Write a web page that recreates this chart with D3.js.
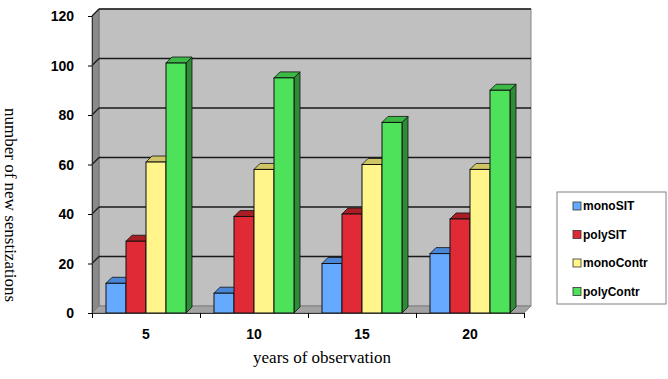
<!DOCTYPE html>
<html lang="en">
  <head>
    <meta charset="UTF-8" />
    <title>New sensitizations</title>
    <style>
      body { margin: 0; background: #fff; }
      .tick-label { font-family: "Liberation Sans", Arial, sans-serif; font-weight: bold; font-size: 14px; fill: #000; }
      .axis-title { font-family: "Liberation Serif", "Times New Roman", serif; font-size: 17px; fill: #000; }
      .legend-text { font-family: "Liberation Sans", Arial, sans-serif; font-weight: bold; font-size: 12px; fill: #000; }
    </style>
  </head>
  <body>
    <script src="https://cdn.jsdelivr.net/npm/d3@7"></script>
    <script>
      // data
      var categories = ["5", "10", "15", "20"];
      var series = ["monoSIT", "polySIT", "monoContr", "polyContr"];
      var monoSIT = [12, 8, 20, 24];
      var polySIT = [29, 39, 40, 38];
      var monoContr = [61, 58, 60, 58];
      var polyContr = [101, 95, 77, 90];
      var yTicks = [0, 20, 40, 60, 80, 100, 120];

      var values = [monoSIT, polySIT, monoContr, polyContr];
      var colors = {
        front: ["#66aaff", "#e02a35", "#fff58a", "#4ee25a"],
        top:   ["#4a86d6", "#a91e24", "#cfc565", "#3bb845"],
        side:  ["#3a6cb0", "#8c1a1e", "#b0a850", "#2e8b36"]
      };

      var w = 668, h = 379;
      var depth = 7;     // wall depth
      var barDepth = 6;  // bar depth

      var svg = d3.select("body").append("svg")
                  .attr("width", w)
                  .attr("height", h);

      var x0 = d3.scaleBand()
                 .domain(categories)
                 .range([92, 524]);

      var x1 = d3.scaleBand()
                 .domain(series)
                 .range([0, 80]);

      var y = d3.scaleLinear()
                .domain([0, 120])
                .range([313, 16]);

      var pLeft = x0.range()[0], pRight = x0.range()[1];
      var pBottom = y(0), pTop = y(120);

      function pts(a) {
        return a.map(function(p) { return p.join(","); }).join(" ");
      }

      // back wall
      svg.append("rect")
         .attr("x", pLeft + depth)
         .attr("y", pTop - depth)
         .attr("width", pRight - pLeft)
         .attr("height", pBottom - pTop)
         .attr("fill", "#c0c0c0")
         .attr("stroke", "#888")
         .attr("stroke-width", 1);

      // left wall
      svg.append("polygon")
         .attr("points", pts([[pLeft, pTop], [pLeft + depth, pTop - depth], [pLeft + depth, pBottom - depth], [pLeft, pBottom]]))
         .attr("fill", "#8a8a8a")
         .attr("stroke", "#666")
         .attr("stroke-width", 0.8);

      // floor
      svg.append("polygon")
         .attr("points", pts([[pLeft, pBottom], [pLeft + depth, pBottom - depth], [pRight + depth, pBottom - depth], [pRight, pBottom]]))
         .attr("fill", "#a3a3a3")
         .attr("stroke", "#777")
         .attr("stroke-width", 0.8);

      // gridlines
      var grid = svg.append("g");
      yTicks.forEach(function(t) {
        if (t === 0) return;
        grid.append("line")
            .attr("x1", pLeft + depth).attr("x2", pRight + depth)
            .attr("y1", y(t) - depth).attr("y2", y(t) - depth)
            .attr("stroke", "#1a1a1a").attr("stroke-width", 1.4);
        grid.append("line")
            .attr("x1", pLeft).attr("x2", pLeft + depth)
            .attr("y1", y(t)).attr("y2", y(t) - depth)
            .attr("stroke", "#1a1a1a").attr("stroke-width", 1.2);
      });

      // bars
      var bars = svg.append("g");
      categories.forEach(function(c, ci) {
        var gx = x0(c) + (x0.bandwidth() - 80) / 2;
        series.forEach(function(s, si) {
          var v = values[si][ci];
          var bx = gx + x1(s), bw = x1.bandwidth();
          var by = y(v), b0 = y(0);
          bars.append("polygon")
              .attr("points", pts([[bx + bw, by], [bx + bw + barDepth, by - barDepth], [bx + bw + barDepth, b0 - barDepth], [bx + bw, b0]]))
              .attr("fill", colors.side[si]).attr("stroke", "#111").attr("stroke-width", 0.8);
          bars.append("polygon")
              .attr("points", pts([[bx, by], [bx + barDepth, by - barDepth], [bx + bw + barDepth, by - barDepth], [bx + bw, by]]))
              .attr("fill", colors.top[si]).attr("stroke", "#111").attr("stroke-width", 0.8);
          bars.append("rect")
              .attr("x", bx).attr("y", by)
              .attr("width", bw).attr("height", b0 - by)
              .attr("fill", colors.front[si]).attr("stroke", "#111").attr("stroke-width", 1);
        });
      });

      // axes
      var yAxis = d3.axisLeft(y).tickValues(yTicks).tickSize(4).tickFormat(d3.format("d"));
      var ya = svg.append("g")
                  .attr("transform", "translate(" + pLeft + ",0)")
                  .call(yAxis);
      ya.select(".domain").attr("stroke", "#333");
      ya.selectAll("text").attr("class", "tick-label").attr("x", -18).attr("dy", "0.35em").attr("fill", null);

      var xTickScale = d3.scaleLinear().domain([0, 4]).range([pLeft, pRight]);
      var xa = svg.append("g")
                  .attr("transform", "translate(0," + pBottom + ")")
                  .call(d3.axisBottom(xTickScale).ticks(4).tickSize(5).tickFormat(""));
      xa.select(".domain").attr("stroke", "#333");

      svg.append("g").selectAll("text")
         .data(categories)
         .enter()
         .append("text")
         .attr("class", "tick-label")
         .attr("x", function(d) { return x0(d) + x0.bandwidth() / 2; })
         .attr("y", 339)
         .attr("text-anchor", "middle")
         .text(function(d) { return d; });

      // titles
      svg.append("text")
         .attr("class", "axis-title")
         .attr("text-anchor", "middle")
         .attr("x", 322)
         .attr("y", 363)
         .text("years of observation");

      svg.append("text")
         .attr("class", "axis-title")
         .attr("text-anchor", "middle")
         .attr("transform", "translate(5,205) rotate(90)")
         .text("number of new senstizations");

      // legend
      var legend = svg.append("g");
      legend.append("rect")
            .attr("x", 557).attr("y", 192)
            .attr("width", 109).attr("height", 112)
            .attr("fill", "#fff").attr("stroke", "#808080").attr("stroke-width", 1);
      series.forEach(function(s, si) {
        var ly = 206 + si * 28.5;
        legend.append("rect")
              .attr("x", 573).attr("y", ly - 4)
              .attr("width", 8).attr("height", 8)
              .attr("fill", colors.front[si]).attr("stroke", "#333").attr("stroke-width", 0.8);
        legend.append("text")
              .attr("class", "legend-text")
              .attr("x", 583).attr("y", ly + 4)
              .text(s);
      });
    </script>
  </body>
</html>
